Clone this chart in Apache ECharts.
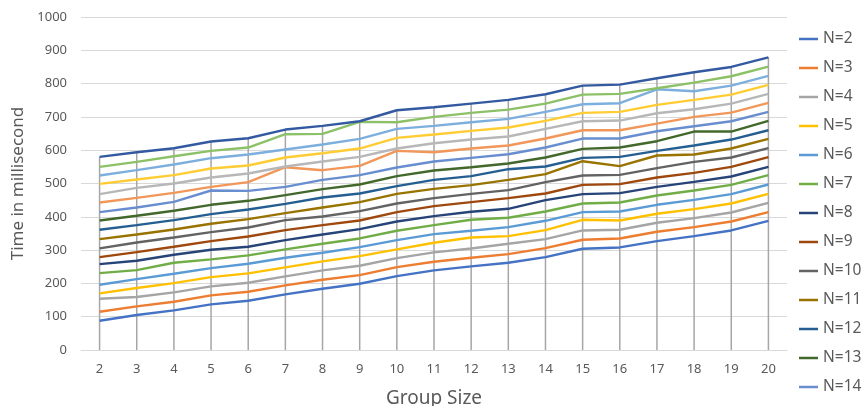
<!DOCTYPE html>
<html>
<head>
<meta charset="utf-8">
<script src="https://cdn.jsdelivr.net/npm/echarts@6/dist/echarts.min.js"></script>
<style>html,body{margin:0;padding:0;background:#fff}#c{width:865px;height:406px}</style>
</head>
<body>
<div id="c"></div>
<script>
var categories = ['2','3','4','5','6','7','8','9','10','11','12','13','14','15','16','17','18','19','20'];
var seriesNames = ['N=2','N=3','N=4','N=5','N=6','N=7','N=8','N=9','N=10','N=11','N=12','N=13','N=14','N=15','N=16','N=17','N=18','N=19','N=20'];
var n2  = [88,105,119,137,148,167,184,199,222,239,251,262,279,304,308,327,342,359,388];
var n3  = [115,131,145,164,175,194,211,225,249,265,277,288,306,331,335,355,369,386,414];
var n4  = [154,159,173,191,202,221,239,253,276,293,305,319,333,359,361,382,396,413,442];
var n5  = [170,186,201,219,230,248,266,282,302,322,338,342,360,391,389,409,423,440,469];
var n6  = [196,213,229,246,259,277,292,309,330,348,358,369,388,414,416,436,451,468,497];
var n7  = [231,240,262,272,284,302,319,335,358,375,391,397,416,440,443,464,479,496,525];
var n8  = [258,268,286,301,310,330,347,363,386,402,415,424,450,468,471,490,505,521,550];
var n9  = [279,294,310,327,341,360,375,389,414,432,444,456,470,496,498,518,532,550,579];
var n10 = [305,323,338,354,368,390,401,417,440,456,469,480,504,524,526,546,565,578,606];
var n11 = [333,347,362,379,393,411,428,444,469,484,495,511,528,567,552,584,587,605,634];
var n12 = [361,375,390,408,422,439,458,470,492,511,522,543,551,577,580,598,614,632,660];
var n13 = [389,403,418,436,448,465,483,497,522,539,549,560,578,604,608,627,656,656,688];
var n14 = [414,428,445,479,478,490,511,525,548,566,577,588,608,635,635,657,672,687,715];
var n15 = [443,457,472,490,504,549,540,553,598,594,605,614,635,660,660,680,700,713,742];
var n16 = [468,487,500,518,530,551,566,580,605,621,632,641,664,687,689,711,723,740,769];
var n17 = [499,512,525,545,554,578,591,605,637,647,658,668,688,712,715,736,751,767,796];
var n18 = [524,540,557,576,587,602,617,634,664,673,684,694,715,738,741,783,777,794,823];
var n19 = [550,565,582,598,608,648,649,685,684,700,712,722,740,767,769,786,803,822,851];
var n20 = [580,594,606,626,636,662,673,687,720,729,740,751,768,794,797,816,834,850,879];
var yTicks = [0,100,200,300,400,500,600,700,800,900,1000];

var allValues = [n2,n3,n4,n5,n6,n7,n8,n9,n10,n11,n12,n13,n14,n15,n16,n17,n18,n19,n20];
var colors = ['#4472C4','#ED7D31','#A5A5A5','#FFC000','#5B9BD5','#70AD47','#264478','#9E480E','#636363','#997300','#255E91','#43682B','#698ED0','#F1975A','#B7B7B7','#FFCD33','#7CAFDD','#8CC168','#335AA1'];
var dropLine = categories.map(function(_, i){
  return Math.max.apply(null, allValues.map(function(a){ return a[i]; }));
});

var series = [{
  name: 'drop', type: 'bar', data: dropLine, barWidth: 1.5, silent: true,
  itemStyle: {color: '#A6A6A6'}, z: 1
}];
allValues.forEach(function(vals, k){
  series.push({
    name: seriesNames[k], type: 'line', data: vals, symbol: 'none',
    lineStyle: {width: 2.4, color: colors[k]}, itemStyle: {color: colors[k]}, z: 2
  });
});

var chart = echarts.init(document.getElementById('c'));
chart.setOption({
  animation: false,
  textStyle: {fontFamily: 'Noto Sans'},
  grid: {left: 81, right: 78, top: 17, bottom: 56, containLabel: false, outerBoundsMode: 'none'},
  legend: {
    data: seriesNames, orient: 'vertical', left: 799, top: 30, padding: 0,
    icon: 'rect', itemWidth: 19, itemHeight: 2.5, itemGap: 11,
    textStyle: {fontSize: 15.5, color: '#595959', lineHeight: 18, fontFamily: 'Noto Sans'}
  },
  xAxis: {
    type: 'category', data: categories, boundaryGap: true,
    name: 'Group Size', nameLocation: 'middle', nameGap: 39,
    nameTextStyle: {fontSize: 19, color: '#595959', fontFamily: 'Noto Sans'},
    axisLine: {lineStyle: {color: '#D9D9D9', width: 1}},
    axisTick: {show: false},
    axisLabel: {color: '#595959', fontSize: 13, margin: 13, interval: 0},
    splitLine: {show: false}
  },
  yAxis: {
    type: 'value', min: yTicks[0], max: yTicks[yTicks.length-1], interval: 100,
    name: 'Time in millisecond', nameLocation: 'middle', nameGap: 50, nameRotate: 90,
    nameTextStyle: {fontSize: 17, color: '#595959', fontFamily: 'Noto Sans'},
    axisLine: {show: false}, axisTick: {show: false},
    axisLabel: {color: '#595959', fontSize: 13, margin: 14, formatter: function(v){ return String(v); }},
    splitLine: {lineStyle: {color: '#D9D9D9', width: 1}}
  },
  series: series
});
</script>
</body>
</html>
